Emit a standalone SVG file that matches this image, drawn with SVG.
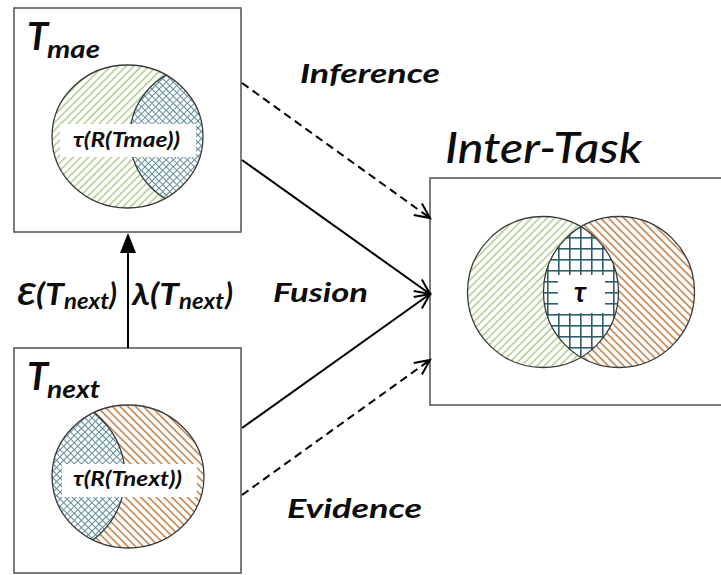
<svg xmlns="http://www.w3.org/2000/svg" width="721" height="575" viewBox="0 0 721 575">
  <style>
    .box { fill: #ffffff; stroke: #5a5a5a; stroke-width: 1.6; }
    .ring { fill: none; stroke: #3a3a3a; stroke-width: 1.3; }
    .lbl { font-family: Lato, "Open Sans", "Liberation Sans", sans-serif; font-weight: bold; font-style: italic; fill: #0d0d0d; }
    .title { font-family: Lato, "Open Sans", "Liberation Sans", sans-serif; font-style: italic; fill: #0d0d0d; }
    .flow { fill: none; stroke: #000000; stroke-width: 2; }
    .dash { stroke-dasharray: 8 5; }
  </style>
  <defs>
    <!-- diagonal "/" hatch, light green -->
    <pattern id="hatchGreen" patternUnits="userSpaceOnUse" width="5.4" height="5.4" patternTransform="rotate(45)">
      <rect x="-1" y="-1" width="8" height="8" fill="#ffffff"/>
      <line x1="1" y1="-1" x2="1" y2="7" stroke="#a4c47a" stroke-width="1.3"/>
    </pattern>
    <!-- diagonal "\" hatch, orange-brown -->
    <pattern id="hatchOrange" patternUnits="userSpaceOnUse" width="5.5" height="5.5" patternTransform="rotate(-45)">
      <rect x="-1" y="-1" width="8" height="8" fill="#ffffff"/>
      <line x1="1" y1="-1" x2="1" y2="7" stroke="#c5824c" stroke-width="1.6"/>
    </pattern>
    <!-- diamond cross-hatch, grey-teal -->
    <pattern id="hatchCross" patternUnits="userSpaceOnUse" width="5" height="5" patternTransform="rotate(45)">
      <rect x="-1" y="-1" width="7" height="7" fill="#ffffff"/>
      <line x1="0.5" y1="-1" x2="0.5" y2="6" stroke="#628f9a" stroke-width="1"/>
      <line x1="-1" y1="0.5" x2="6" y2="0.5" stroke="#628f9a" stroke-width="1"/>
    </pattern>
    <!-- square grid, dark teal -->
    <pattern id="grid" patternUnits="userSpaceOnUse" width="11" height="11" x="547" y="226">
      <rect width="11" height="11" fill="#ffffff"/>
      <line x1="0.8" y1="0" x2="0.8" y2="11" stroke="#2e5d69" stroke-width="1.6"/>
      <line x1="0" y1="0.8" x2="11" y2="0.8" stroke="#2e5d69" stroke-width="1.6"/>
    </pattern>

    <clipPath id="clipMae"><ellipse cx="127.5" cy="136.5" rx="75.5" ry="71.5"/></clipPath>
    <clipPath id="clipNext"><ellipse cx="128" cy="476.5" rx="76" ry="71.5"/></clipPath>
    <clipPath id="clipInterL"><circle cx="543" cy="292" r="75.5"/></clipPath>

    <marker id="openHead" markerUnits="userSpaceOnUse" markerWidth="20" markerHeight="20" viewBox="0 0 20 20" refX="17" refY="10" orient="auto">
      <path d="M2,3 L17,10 L2,17" fill="none" stroke="#000000" stroke-width="2" stroke-linejoin="miter"/>
    </marker>
  </defs>

  <!-- upper task -->
  <g id="node-tmae">
    <rect class="box" x="14" y="8" width="227" height="224"/>
    <text class="title" x="27" y="50" font-size="38" font-weight="bold">T</text>
    <text class="lbl" x="47" y="58" font-size="25" textLength="53" lengthAdjust="spacingAndGlyphs">mae</text>
    <ellipse cx="127.5" cy="136.5" rx="75.5" ry="71.5" fill="url(#hatchGreen)"/>
    <g clip-path="url(#clipMae)">
      <circle cx="201" cy="137" r="71" fill="url(#hatchCross)" stroke="#2f3f44" stroke-width="1.3"/>
    </g>
    <rect x="60" y="124" width="136" height="33" fill="#ffffff"/>
    <text class="lbl" x="73" y="147" font-size="20" textLength="107" lengthAdjust="spacingAndGlyphs">τ(R(Tmae))</text>
    <ellipse class="ring" cx="127.5" cy="136.5" rx="75.5" ry="71.5"/>
  </g>

  <!-- lower task -->
  <g id="node-tnext">
    <rect class="box" x="14" y="348" width="227" height="225"/>
    <text class="title" x="27" y="390" font-size="38" font-weight="bold">T</text>
    <text class="lbl" x="47" y="398" font-size="25" textLength="53" lengthAdjust="spacingAndGlyphs">next</text>
    <ellipse cx="128" cy="476.5" rx="76" ry="71.5" fill="url(#hatchOrange)"/>
    <g clip-path="url(#clipNext)">
      <circle cx="45" cy="476" r="80" fill="url(#hatchCross)" stroke="#2f3f44" stroke-width="1.3"/>
    </g>
    <rect x="62" y="464" width="135" height="33" fill="#ffffff"/>
    <text class="lbl" x="73" y="486" font-size="20" textLength="109" lengthAdjust="spacingAndGlyphs">τ(R(Tnext))</text>
    <ellipse class="ring" cx="128" cy="476.5" rx="76" ry="71.5"/>
  </g>

  <!-- combined task -->
  <g id="node-intertask">
    <text class="title" x="445" y="163" font-size="42" font-weight="500" textLength="197" lengthAdjust="spacingAndGlyphs">Inter-Task</text>
    <rect class="box" x="430" y="178" width="300" height="227"/>
    <circle cx="543" cy="292" r="75.5" fill="url(#hatchGreen)"/>
    <circle cx="619" cy="292" r="75.5" fill="url(#hatchOrange)"/>
    <g clip-path="url(#clipInterL)">
      <circle cx="619" cy="292" r="75.5" fill="url(#grid)"/>
    </g>
    <rect x="558" y="275" width="47" height="38" fill="#ffffff"/>
    <text class="lbl" x="574" y="302" font-size="28">τ</text>
    <circle class="ring" cx="543" cy="292" r="75.5"/>
    <circle class="ring" cx="619" cy="292" r="75.5"/>
  </g>

  <!-- connectors -->
  <g id="connectors">
    <line class="flow" x1="128" y1="348" x2="128" y2="250"/>
    <polygon points="128,233 120,253 136,253" fill="#000000"/>
    <line class="flow dash" x1="242" y1="83" x2="430" y2="218" marker-end="url(#openHead)"/>
    <line class="flow" x1="242" y1="160" x2="430" y2="294" marker-end="url(#openHead)"/>
    <line class="flow" x1="242" y1="428" x2="430" y2="294" marker-end="url(#openHead)"/>
    <line class="flow dash" x1="242" y1="495" x2="430" y2="360" marker-end="url(#openHead)"/>
  </g>

  <!-- connector labels -->
  <g id="labels">
    <text class="lbl" x="300" y="83" font-size="26" textLength="140" lengthAdjust="spacingAndGlyphs">Inference</text>
    <text class="lbl" x="273" y="302" font-size="26" textLength="95" lengthAdjust="spacingAndGlyphs">Fusion</text>
    <text class="lbl" x="287" y="518" font-size="26" textLength="135" lengthAdjust="spacingAndGlyphs">Evidence</text>
    <text class="lbl" font-size="30"><tspan x="17" y="305" textLength="47" lengthAdjust="spacingAndGlyphs">Ɛ(T</tspan><tspan x="64" y="309" font-size="22" textLength="45" lengthAdjust="spacingAndGlyphs">next</tspan><tspan x="109" y="305">)</tspan></text>
    <text class="lbl" font-size="30"><tspan x="132" y="305" textLength="47" lengthAdjust="spacingAndGlyphs">λ(T</tspan><tspan x="179" y="309" font-size="22" textLength="45" lengthAdjust="spacingAndGlyphs">next</tspan><tspan x="225" y="305">)</tspan></text>
  </g>
</svg>
